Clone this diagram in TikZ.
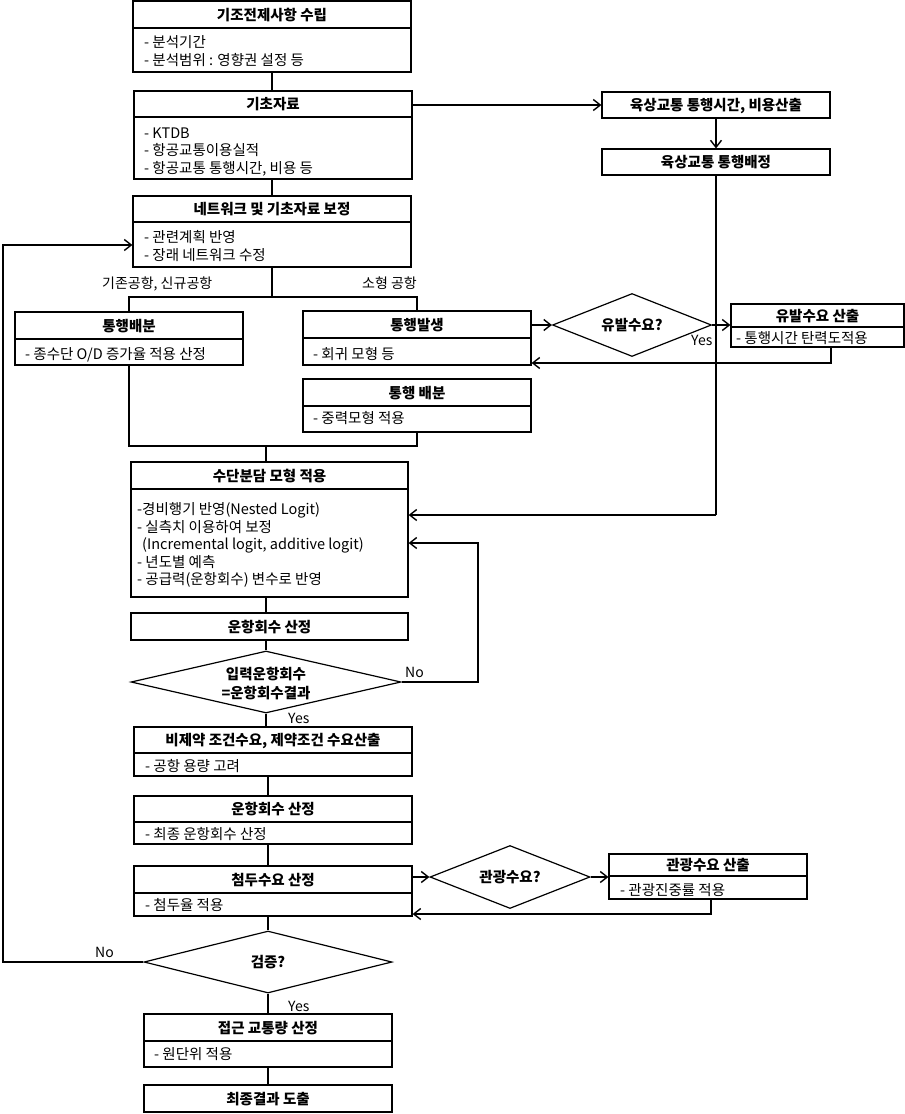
\documentclass[tikz,border=0pt]{standalone}
\usepackage{fontspec}
\setmainfont{Noto Sans CJK KR}
\usetikzlibrary{arrows.meta,shapes.geometric,calc}
\newcommand\hdfont{\fontsize{14.5}{17.5}\selectfont\bfseries}
\newcommand\bdfont{\fontsize{14.5}{17.5}\selectfont}
\newcommand\lbfont{\fontsize{14}{17}\selectfont}
\newcommand\ml[1]{\begin{tabular}[t]{@{}l@{}}#1\end{tabular}}
\newcommand\twobox[6]{%
  \node[bx, minimum width={#4-#2}, minimum height={#5-#3}] (#1) at ({(#2+#4)/2},{(#3+#5)/2}) {};
  \draw[bxl] (#2,#6) -- (#4,#6);}
\newcommand\onebox[5]{%
  \node[bx, minimum width={#4-#2}, minimum height={#5-#3}] (#1) at ({(#2+#4)/2},{(#3+#5)/2}) {};}
\tikzset{
  bx/.style={draw, rectangle, line width=1.2pt, inner sep=0pt, fill=white},
  bxl/.style={line width=1.2pt},
  dm/.style={draw, diamond, line width=1.2pt, inner sep=0pt, fill=white},
  ln/.style={line width=1.8pt},
  ar/.style={ln, -{Straight Barb[length=7pt,width=11pt,line width=1.4pt]}},
  hd/.style={font=\hdfont, inner sep=0pt, anchor=base},
  bd/.style={font=\bdfont, inner sep=0pt, anchor=base west},
  lb/.style={font=\lbfont, inner sep=0pt},
}
\begin{document}
\begin{tikzpicture}[x=1pt,y=-1pt]
\fill[white] (0,0) rectangle (905,1114);
\useasboundingbox (0,0) rectangle (905,1114);

% ---------- boxes ----------
\twobox{b1}{133}{1}{411}{72}{28}
\node[hd] (b1h) at (272,20.5) {기조전제사항 수립};
\node[bd] (b1t) at (144,47.5) {\ml{- 분석기간\\- 분석범위 : 영향권 설정 등}};

\twobox{b2}{134}{91}{412}{179}{117}
\node[hd] (b2h) at (273,109.5) {기초자료};
\node[bd] (b2t) at (144,138) {\ml{- KTDB\\- 항공교통이용실적\\- 항공교통 통행시간, 비용 등}};

\twobox{b3}{133}{196}{411}{267}{222}
\node[hd] (b3h) at (272,214.5) {네트워크 및 기초자료 보정};
\node[bd] (b3t) at (144,242.5) {\ml{- 관련계획 반영\\- 장래 네트워크 수정}};

\onebox{lt1}{602}{92}{830}{118}
\node[hd] (lt1h) at (716,110.5) {육상교통 통행시간, 비용산출};
\onebox{lt2}{602}{149}{830}{175}
\node[hd] (lt2h) at (716,167.5) {육상교통 통행배정};

\twobox{tb}{15}{312}{243}{365}{339}
\node[hd] (tbh) at (129,331) {통행배분};
\node[bd] (tbt) at (25,359.5) {- 종수단 O/D 증가율 적용 산정};

\twobox{tg}{303}{311}{531}{365}{338}
\node[hd] (tgh) at (417,330.5) {통행발생};
\node[bd] (tgt) at (313,359.5) {- 회귀 모형 등};

\twobox{tb2}{303}{379}{531}{432}{406}
\node[hd] (tb2h) at (417,398) {통행 배분};
\node[bd] (tb2t) at (313,423.5) {- 중력모형 적용};

\node[dm, minimum width=159, minimum height=63] (yd) at (632,325) {};
\node[hd] (ydt) at (632,330.5) {유발수요?};

\twobox{yb}{731}{304}{904}{347}{327}
\node[hd] (ybh) at (817.5,321.5) {유발수요 산출};
\node[bd] (ybt) at (736,343.5) {- 통행시간 탄력도적용};

\twobox{sd}{131}{462}{408}{597}{489}
\node[hd] (sdh) at (269.5,481) {수단분담 모형 적용};
\node[bd] (sdt) at (137,514.5) {\ml{-경비행기 반영(Nested Logit)\\- 실측치 이용하여 보정\\\hspace{5pt}(Incremental logit, additive logit)\\- 년도별 예측\\- 공급력(운항회수) 변수로 반영}};

\onebox{uh}{131}{613}{408}{640}
\node[hd] (uhh) at (269.5,632) {운항회수 산정};

\node[dm, minimum width=270, minimum height=62] (d1) at (266,682) {};
\node[hd] (d1a) at (266,679.5) {입력운항회수};
\node[hd] (d1b) at (266,698.5) {=운항회수결과};

\twobox{bj}{134}{727}{412}{776}{753}
\node[hd] (bjh) at (273,745.5) {비제약 조건수요, 제약조건 수요산출};
\node[bd] (bjt) at (145,771.5) {- 공항 용량 고려};

\twobox{uh2}{134}{796}{412}{844}{822}
\node[hd] (uh2h) at (273,814.5) {운항회수 산정};
\node[bd] (uh2t) at (145,839.5) {- 최종 운항회수 산정};

\twobox{cd}{134}{866}{412}{916}{893}
\node[hd] (cdh) at (273,885) {첨두수요 산정};
\node[bd] (cdt) at (145,910.5) {- 첨두율 적용};

\node[dm, minimum width=160, minimum height=63] (d2) at (510,877) {};
\node[hd] (d2t) at (510,882.5) {관광수요?};

\twobox{gk}{609}{854}{807}{899}{876}
\node[hd] (gkh) at (708,870.5) {관광수요 산출};
\node[bd] (gkt) at (620,895.5) {- 관광진중률 적용};

\node[dm, minimum width=248, minimum height=62] (d3) at (268,962) {};
\node[hd] (d3t) at (268,967.5) {검증?};

\twobox{jg}{144}{1014}{392}{1067}{1041}
\node[hd] (jgh) at (268,1033) {접근 교통량 산정};
\node[bd] (jgt) at (154,1059.5) {- 원단위 적용};

\onebox{fin}{144}{1085}{392}{1112}
\node[hd] (finh) at (268,1104) {최종결과 도출};

% ---------- coordinates ----------
\coordinate (j1) at (272,297);
\coordinate (j2) at (266,446);
\coordinate (t) at (268,0);
\coordinate (c1) at (716,515);
\coordinate (c2) at (478,543);
\coordinate (c3) at (831,363);
\coordinate (c4) at (711,914);
\coordinate (lc) at (3,962);
\coordinate (lt) at (3,245);

% ---------- connectors ----------
\draw[ln] (b1.south) -- (b1.south |- b2.north);
\draw[ln] (b1.south |- b2.south) -- (b1.south |- b3.north);
\draw[ln] (b1.south |- b3.south) -- (j1);
\draw[ln] (tb.north) -- (tb.north |- j1) -- (tg.north |- j1) -- (tg.north);
\draw[ln] (tb.south) -- (tb.south |- j2) -- (tb2.south |- j2) -- (tb2.south);
\draw[ln] (j2) -- (j2 |- sd.north);
\draw[ln] (j2 |- sd.south) -- (j2 |- uh.north);
\draw[ln] (j2 |- uh.south) -- (d1.north);
\draw[ln] (d1.south) -- (d1.south |- bj.north);
\draw[ln] (t |- bj.south) -- (t |- uh2.north);
\draw[ln] (t |- uh2.south) -- (t |- cd.north);
\draw[ln] (t |- cd.south) -- (d3.north);
\draw[ln] (d3.south) -- (jg.north);
\draw[ln] (jg.south) -- (fin.north);

\draw[ar] (b2.east |- lt1.west) -- (lt1.west);
\draw[ar] (lt1.south) -- (lt2.north);
\draw[ln] (lt2.south) -- (c1);
\draw[ar] (c1) -- (c1 -| sd.east);
\draw[ar] (tg.east |- yd.west) -- (yd.west);
\draw[ar] (yd.east) -- (yd.east -| yb.west);
\draw[ar] (c3 |- yb.south) -- (c3) -- (c3 -| tg.east);
\draw[ar] (d1.east) -| (c2) -- (c2 -| sd.east);
\draw[ar] (cd.east |- d2.west) -- (d2.west);
\draw[ar] (d2.east) -- (d2.east -| gk.west);
\draw[ar] (c4 |- gk.south) -- (c4) -- (c4 -| cd.east);
\draw[ar] (d3.west) -- (lc) -- (lt) -- (lt -| b3.west);

% ---------- labels ----------
\node[lb, anchor=base west] (l1) at (102,288.5) {기존공항, 신규공항};
\node[lb, anchor=base east] (l2) at (417,288.5) {소형 공항};
\node[lb, anchor=base west] (l3) at (691,345) {Yes};
\node[lb, anchor=base west] (l4) at (405,677.5) {No};
\node[lb, anchor=base west] (l5) at (288,723) {Yes};
\node[lb, anchor=base west] (l6) at (95,957.5) {No};
\node[lb, anchor=base west] (l7) at (288,1011) {Yes};
\end{tikzpicture}
\end{document}
